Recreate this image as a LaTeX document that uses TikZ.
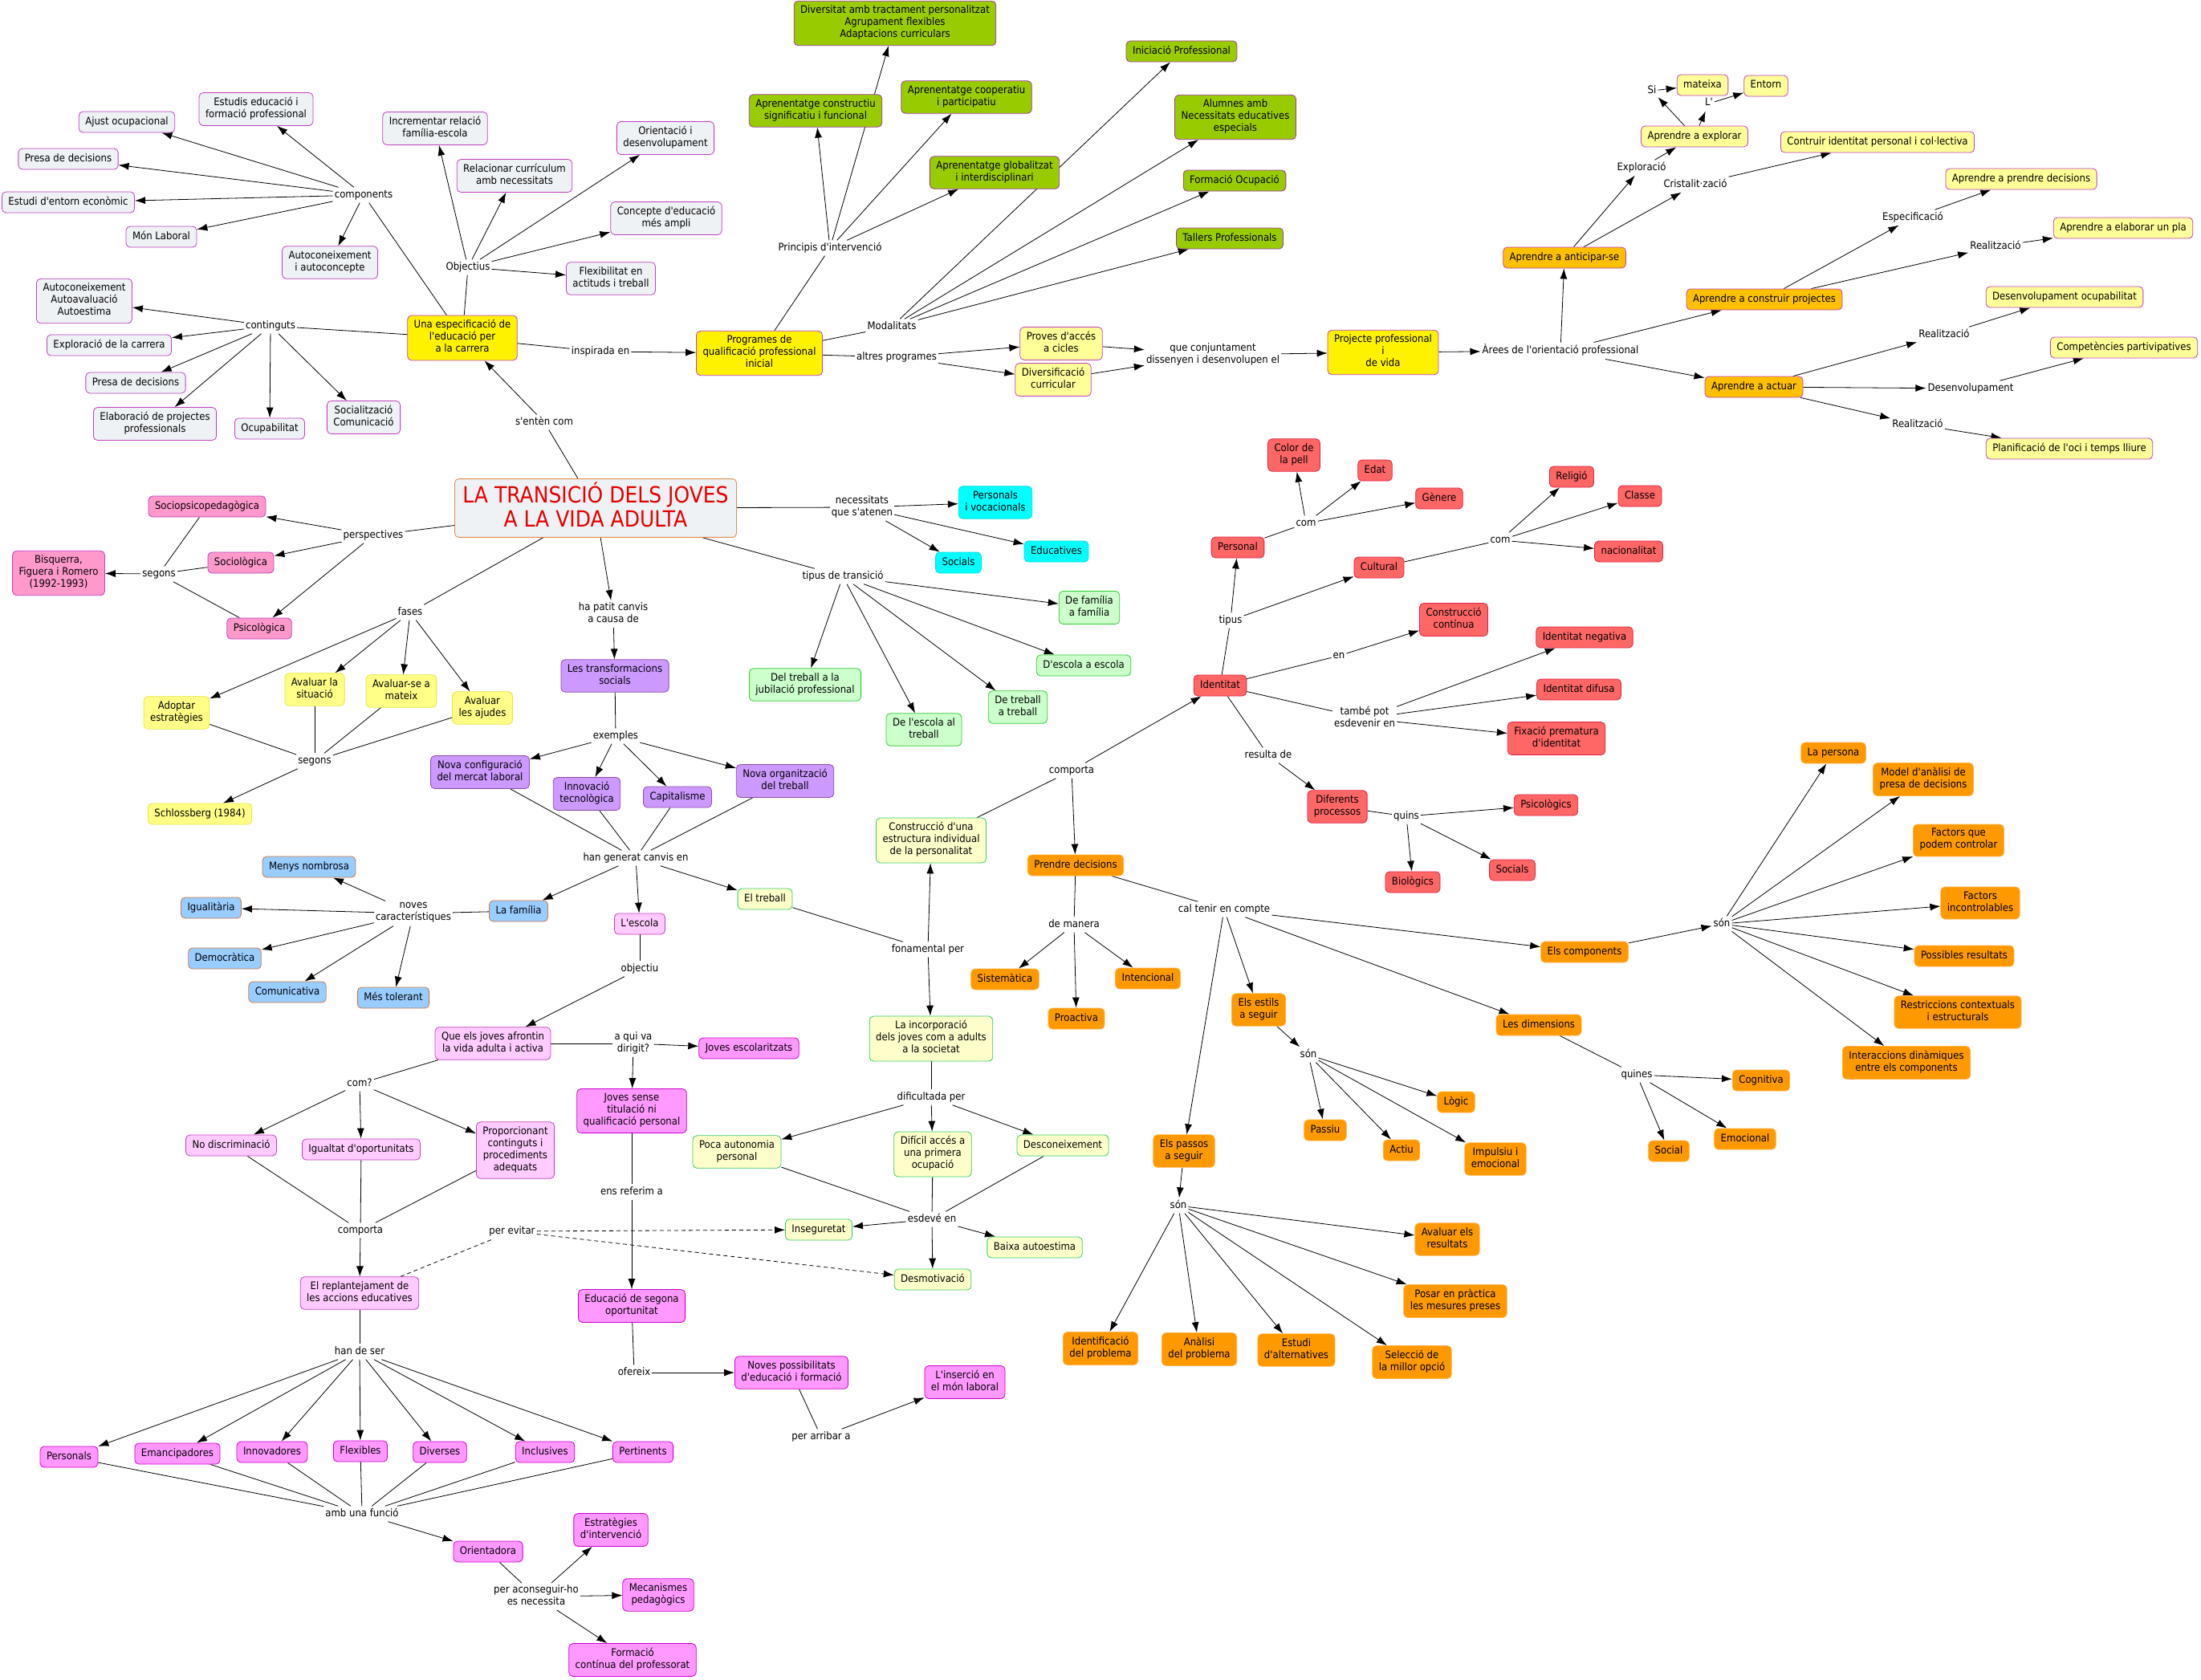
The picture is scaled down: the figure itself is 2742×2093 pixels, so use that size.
\documentclass[tikz,border=0pt]{standalone}
\usepackage{fontspec}
\setmainfont{DejaVu Sans}[FakeStretch=0.9, Ligatures=TeXOff]
\usetikzlibrary{arrows.meta,backgrounds}
\definecolor{cmgray}{HTML}{EEF2F5}
\definecolor{cmmag}{HTML}{C040C0}
\definecolor{cmgreen}{HTML}{99CC00}
\definecolor{cmgreenbd}{HTML}{9C3A9C}
\definecolor{cmpale}{HTML}{FFFF99}
\definecolor{cmgold}{HTML}{FFC000}
\definecolor{cmtitlebd}{HTML}{E58A4E}
\definecolor{cmtitle}{HTML}{E60000}
\definecolor{cmpink}{HTML}{FF99CC}
\definecolor{cmfase}{HTML}{FFFF88}
\definecolor{cmfasebd}{HTML}{E6E640}
\definecolor{cmpurple}{HTML}{CC99FF}
\definecolor{cmpurplebd}{HTML}{8E4CA8}
\definecolor{cmblue}{HTML}{99CCFF}
\definecolor{cmbluebd}{HTML}{CC7744}
\definecolor{cmlpink}{HTML}{FFCCFF}
\definecolor{cmmpink}{HTML}{FF99FF}
\definecolor{cmmpinkbd}{HTML}{CC00CC}
\definecolor{cmcream}{HTML}{FFFFCC}
\definecolor{cmcreambd}{HTML}{33CC66}
\definecolor{cmlgreen}{HTML}{CCFFCC}
\definecolor{cmlgreenbd}{HTML}{33CC33}
\definecolor{cmcyan}{HTML}{00FFFF}
\definecolor{cmcyanbd}{HTML}{00DDDD}
\definecolor{cmred}{HTML}{FF6666}
\definecolor{cmredbd}{HTML}{DD2244}
\definecolor{cmorange}{HTML}{FF9900}
\definecolor{cmorangebd}{HTML}{FFB347}

\begin{document}
\begin{tikzpicture}[
  x=1pt, y=-1pt,
  font=\fontsize{13}{15}\selectfont,
  cpt/.style={draw, line width=0.8pt, rounded corners=5pt, align=center,
              inner xsep=8pt, inner ysep=5.5pt,
              execute at begin node=\strut, execute at end node=\strut},
  gry/.style={cpt, fill=cmgray, draw=cmmag},
  ylw/.style={cpt, fill=yellow, draw=cmmag},
  grn/.style={cpt, fill=cmgreen, draw=cmgreenbd},
  pal/.style={cpt, fill=cmpale, draw=cmmag},
  gld/.style={cpt, fill=cmgold, draw=cmmag},
  ttl/.style={cpt, fill=cmgray, draw=cmtitlebd, text=cmtitle, inner xsep=10pt, inner ysep=4pt,
              font=\fontsize{27.8}{30}\selectfont},
  pnk/.style={cpt, fill=cmpink, draw=cmmag},
  fas/.style={cpt, fill=cmfase, draw=cmfasebd},
  prp/.style={cpt, fill=cmpurple, draw=cmpurplebd},
  blu/.style={cpt, fill=cmblue, draw=cmbluebd},
  lpk/.style={cpt, fill=cmlpink, draw=cmmag},
  mpk/.style={cpt, fill=cmmpink, draw=cmmpinkbd},
  crm/.style={cpt, fill=cmcream, draw=cmcreambd},
  lgr/.style={cpt, fill=cmlgreen, draw=cmlgreenbd},
  cyn/.style={cpt, fill=cmcyan, draw=cmcyanbd},
  red/.style={cpt, fill=cmred, draw=cmredbd},
  org/.style={cpt, fill=cmorange, draw=cmorangebd},
  lbl/.style={inner sep=2pt, align=center,
              execute at begin node=\strut, execute at end node=\strut},
  ln/.style={line width=0.8pt},
  arr/.style={ln, -{Latex[length=13pt,width=9pt]}},
  dsh/.style={ln, dash pattern=on 5pt off 4pt},
]
  \useasboundingbox (0,0) rectangle (2742,2093);

  % --- especificacio de l'educacio per a la carrera
  \node[gry] (ajust)   at (158,152) {Ajust ocupacional};
  \node[gry] (estudis) at (319,136) {Estudis educació i\\formació professional};
  \node[gry] (presaA)  at (85,198)  {Presa de decisions};
  \node[gry] (entorn)  at (85,252)  {Estudi d'entorn econòmic};
  \node[gry] (monlab)  at (201,295) {Món Laboral};
  \node[gry] (autoc)   at (411,327) {Autoconeixement\\i autoconcepte};
  \node[gry] (increm)  at (542,160) {Incrementar relació\\família-escola};
  \node[gry] (relac)   at (641,219) {Relacionar currículum\\amb necessitats};
  \node[gry] (orient)  at (829,172) {Orientació i\\desenvolupament};
  \node[gry] (concep)  at (830,272) {Concepte d'educació\\més ampli};
  \node[gry] (flexib)  at (761,347) {Flexibilitat en\\actituds i treball};
  \node[gry] (autoav)  at (105,375) {Autoconeixement\\Autoavaluació\\Autoestima};
  \node[gry] (explor)  at (136,430) {Exploració de la carrera};
  \node[gry] (presaB)  at (169,477) {Presa de decisions};
  \node[gry] (elabor)  at (193,528) {Elaboració de projectes\\professionals};
  \node[gry] (ocupab)  at (336,534) {Ocupabilitat};
  \node[gry] (social)  at (453,520) {Socialització\\Comunicació};
  \node[ylw] (espec)   at (576,421) {Una especificació de\\l'educació per\\a la carrera};
  \node[lbl] (lcomp)   at (453,243) {components};
  \node[lbl] (lobj)    at (583,333) {Objectius};
  \node[lbl] (lcont)   at (337,406) {continguts};
  \node[lbl] (linsp)   at (748,438) {inspirada en};
  \node[lbl] (lsent)   at (678,526) {s'entèn com};

  % --- programes
  \node[ylw] (pqpi)    at (946,440)  {Programes de\\qualificació professional\\inicial};
  \node[grn] (divers)  at (1115,29)  {Diversitat amb tractament personalitzat\\Agrupament flexibles\\Adaptacions curriculars};
  \node[grn] (apcons)  at (1016,138) {Aprenentatge constructiu\\significatiu i funcional};
  \node[grn] (apcoop)  at (1204,121) {Aprenentatge cooperatiu\\i participatiu};
  \node[grn] (apglob)  at (1239,215) {Aprenentatge globalitzat\\i interdisciplinari};
  \node[grn] (inicp)   at (1472,64)  {Iniciació Professional};
  \node[grn] (alumn)   at (1539,146) {Alumnes amb\\Necessitats educatives\\especials};
  \node[grn] (formo)   at (1538,225) {Formació Ocupació};
  \node[grn] (taller)  at (1532,297) {Tallers Professionals};
  \node[pal] (proves)  at (1322,428) {Proves d'accés\\a cicles};
  \node[pal] (divcur)  at (1312,473) {Diversificació\\curricular};
  \node[ylw] (projv)   at (1723,439) {Projecte professional\\i\\de vida};
  \node[lbl] (lprinc)  at (1034,309) {Principis d'intervenció};
  \node[lbl] (lmodal)  at (1111,407) {Modalitats};
  \node[lbl] (laltres) at (1117,445) {altres programes};
  \node[lbl] (lconj)   at (1511,442) {que conjuntament\\dissenyen i desenvolupen el};

  % --- arees de l'orientacio professional
  \node[lbl] (larees)  at (1944,437) {Àrees de l'orientació professional};
  \node[gld] (apant)   at (1949,321) {Aprendre a anticipar-se};
  \node[gld] (apcon)   at (2198,373) {Aprendre a construir projectes};
  \node[gld] (apact)   at (2185,482) {Aprendre a actuar};
  \node[pal] (apexp)   at (2111,170) {Aprendre a explorar};
  \node[pal] (mateixa) at (2121,106) {mateixa};
  \node[pal] (entorn2) at (2200,107) {Entorn};
  \node[pal] (contr)   at (2339,177) {Contruir identitat personal i col·lectiva};
  \node[pal] (appren)  at (2518,223) {Aprendre a prendre decisions};
  \node[pal] (apelab)  at (2645,284) {Aprendre a elaborar un pla};
  \node[pal] (desocu)  at (2572,370) {Desenvolupament ocupabilitat};
  \node[pal] (compet)  at (2646,433) {Competències partivipatives};
  \node[pal] (planif)  at (2578,559) {Planificació de l'oci i temps lliure};
  \node[lbl] (lexpl)   at (2045,209) {Exploració};
  \node[lbl] (lcrist)  at (2112,230) {Cristalit·zació};
  \node[lbl] (lsi)     at (2058,113) {Si};
  \node[lbl] (ll)      at (2129,129) {L'};
  \node[lbl] (lespe)   at (2383,271) {Especificació};
  \node[lbl] (lreal1)  at (2486,307) {Realització};
  \node[lbl] (lreal2)  at (2422,417) {Realització};
  \node[lbl] (ldes)    at (2455,484) {Desenvolupament};
  \node[lbl] (lreal3)  at (2389,529) {Realització};

  % --- title and first level
  \node[ttl] (title)   at (742,633) {LA TRANSICIÓ DELS JOVES\\A LA VIDA ADULTA};
  \node[lbl] (lnec)    at (1074,632) {necessitats\\que s'atenen};
  \node[cyn] (persv)   at (1240,626) {Personals\\i vocacionals};
  \node[cyn] (socs)    at (1194,701) {Socials};
  \node[cyn] (educs)   at (1316,687) {Educatives};
  \node[lbl] (ltipt)   at (1050,718) {tipus de transició};
  \node[lgr] (trjub)   at (1003,853) {Del treball a la\\jubilació professional};
  \node[lgr] (esctr)   at (1151,909) {De l'escola al\\treball};
  \node[lgr] (trtr)    at (1268,881) {De treball\\a treball};
  \node[lgr] (escesc)  at (1350,829) {D'escola a escola};
  \node[lgr] (famfam)  at (1357,757) {De família\\a família};
  \node[lbl] (lpersp)  at (465,667)  {perspectives};
  \node[pnk] (sociop)  at (258,631)  {Sociopsicopedagògica};
  \node[pnk] (sociol)  at (300,701)  {Sociològica};
  \node[pnk] (psico)   at (323,783)  {Psicològica};
  \node[lbl] (lsegA)   at (198,715)  {segons};
  \node[pnk] (bisq)    at (73,714)   {Bisquerra,\\Figuera i Romero\\(1992-1993)};
  \node[lbl] (lfases)  at (511,763)  {fases};
  \node[fas] (adopt)   at (220,888)  {Adoptar\\estratègies};
  \node[fas] (avsit)   at (392,859)  {Avaluar la\\situació};
  \node[fas] (avmat)   at (500,861)  {Avaluar-se a\\mateix};
  \node[fas] (avaju)   at (601,882)  {Avaluar\\les ajudes};
  \node[lbl] (lsegB)   at (392,948)  {segons};
  \node[fas] (schl)    at (249,1014) {Schlossberg (1984)};

  % --- transformacions socials
  \node[lbl] (lpatit)  at (764,765)  {ha patit canvis\\a causa de};
  \node[prp] (transf)  at (766,842)  {Les transformacions\\socials};
  \node[lbl] (lexem)   at (767,917)  {exemples};
  \node[prp] (novconf) at (598,962)  {Nova configuració\\del mercat laboral};
  \node[prp] (innov)   at (731,989)  {Innovació\\tecnològica};
  \node[prp] (capit)   at (844,993)  {Capitalisme};
  \node[prp] (novorg)  at (978,973)  {Nova organització\\del treball};
  \node[lbl] (lhan)    at (792,1069) {han generat canvis en};
  \node[blu] (familia) at (646,1135) {La família};
  \node[lpk] (escola)  at (797,1151) {L'escola};
  \node[crm] (treball) at (953,1120) {El treball};
  \node[lbl] (lnoves)  at (515,1138) {noves\\característiques};
  \node[blu] (menys)   at (385,1080) {Menys nombrosa};
  \node[blu] (igual)   at (263,1131) {Igualitària};
  \node[blu] (democ)   at (280,1194) {Democràtica};
  \node[blu] (comun)   at (358,1236) {Comunicativa};
  \node[blu] (toler)   at (490,1243) {Més tolerant};

  % --- escola
  \node[lbl] (lobjc)   at (797,1207) {objectiu};
  \node[lpk] (afront)  at (614,1300) {Que els joves afrontin\\la vida adulta i activa};
  \node[lbl] (lqui)    at (789,1300) {a qui va\\dirigit?};
  \node[mpk] (jovesc)  at (933,1306) {Joves escolaritzats};
  \node[mpk] (jovsen)  at (787,1384) {Joves sense\\titulació ni\\qualificació personal};
  \node[lbl] (lrefer)  at (787,1485) {ens referim a};
  \node[mpk] (edusec)  at (787,1627) {Educació de segona\\oportunitat};
  \node[lbl] (lofer)   at (790,1710) {ofereix};
  \node[mpk] (novpos)  at (986,1710) {Noves possibilitats\\d'educació i formació};
  \node[lbl] (larrib)  at (1023,1790) {per arribar a};
  \node[mpk] (insmon)  at (1202,1722) {L'inserció en\\el món laboral};
  \node[lbl] (lcom)    at (448,1350) {com?};
  \node[lpk] (nodisc)  at (288,1427) {No discriminació};
  \node[lpk] (igopo)   at (450,1432) {Igualtat d'oportunitats};
  \node[lpk] (propor)  at (642,1433) {Proporcionant\\continguts i\\procediments\\adequats};
  \node[lbl] (lcomp2)  at (449,1533) {comporta};
  \node[lbl] (levit)   at (638,1534) {per evitar};
  \node[lpk] (replan)  at (448,1611) {El replantejament de\\les accions educatives};
  \node[lbl] (lhande)  at (448,1684) {han de ser};
  \node[mpk] (pers)    at (86,1815)  {Personals};
  \node[mpk] (emanc)   at (221,1811) {Emancipadores};
  \node[mpk] (innovd)  at (339,1809) {Innovadores};
  \node[mpk] (flexb)   at (449,1808) {Flexibles};
  \node[mpk] (divrs)   at (548,1809) {Diverses};
  \node[mpk] (inclu)   at (679,1809) {Inclusives};
  \node[mpk] (perti)   at (801,1809) {Pertinents};
  \node[lbl] (lfunc)   at (451,1886) {amb una funció};
  \node[mpk] (orientd) at (608,1933) {Orientadora};
  \node[lbl] (lacons)  at (668,1989) {per aconseguir-ho\\es necessita};
  \node[mpk] (estrat)  at (761,1906) {Estratègies\\d'intervenció};
  \node[mpk] (mecan)   at (820,1987) {Mecanismes\\pedagògics};
  \node[mpk] (formc)   at (788,2068) {Formació\\contínua del professorat};

  % --- treball
  \node[lbl] (lfonam)  at (1156,1183) {fonamental per};
  \node[crm] (constr)  at (1160,1047) {Construcció d'una\\estructura individual\\de la personalitat};
  \node[crm] (incorp)  at (1160,1294) {La incorporació\\dels joves com a adults\\a la societat};
  \node[lbl] (ldific)  at (1160,1367) {dificultada per};
  \node[crm] (poca)    at (918,1435)  {Poca autonomia\\personal};
  \node[crm] (dificil) at (1162,1438) {Difícil accés a\\una primera\\ocupació};
  \node[crm] (descon)  at (1324,1427) {Desconeixement};
  \node[lbl] (lesdev)  at (1161,1519) {esdevé en};
  \node[crm] (insegur) at (1020,1532) {Inseguretat};
  \node[crm] (baixa)   at (1289,1554) {Baixa autoestima};
  \node[crm] (desmot)  at (1162,1594) {Desmotivació};

  % --- identitat
  \node[lbl] (lcomp3)  at (1335,960)  {comporta};
  \node[red] (ident)   at (1520,854)  {Identitat};
  \node[lbl] (ltipus)  at (1533,773)  {tipus};
  \node[red] (personal) at (1542,682) {Personal};
  \node[red] (cultural) at (1718,707) {Cultural};
  \node[lbl] (lcomP)   at (1627,652)  {com};
  \node[red] (color)   at (1612,567)  {Color de\\la pell};
  \node[red] (edat)    at (1713,586)  {Edat};
  \node[red] (genere)  at (1793,621)  {Gènere};
  \node[lbl] (lcomC)   at (1869,673)  {com};
  \node[red] (religio) at (1958,594)  {Religió};
  \node[red] (classe)  at (2043,618)  {Classe};
  \node[red] (nacio)   at (2029,687)  {nacionalitat};
  \node[lbl] (len)     at (1668,817)  {en};
  \node[red] (constc)  at (1811,772)  {Construcció\\contínua};
  \node[lbl] (ltamb)   at (1700,895)  {també pot\\esdevenir en};
  \node[red] (idneg)   at (1974,794)  {Identitat negativa};
  \node[red] (iddif)   at (1967,859)  {Identitat difusa};
  \node[red] (fixac)   at (1939,920)  {Fixació prematura\\d'identitat};
  \node[lbl] (lresul)  at (1580,941)  {resulta de};
  \node[red] (difproc) at (1666,1005) {Diferents\\processos};
  \node[lbl] (lquins)  at (1752,1017) {quins};
  \node[red] (psicol)  at (1926,1003) {Psicològics};
  \node[red] (biol)    at (1760,1099) {Biològics};
  \node[red] (socis)   at (1884,1084) {Socials};

  % --- prendre decisions
  \node[org] (prendre) at (1340,1078) {Prendre decisions};
  \node[lbl] (lmanera) at (1338,1152) {de manera};
  \node[org] (sistem)  at (1252,1220) {Sistemàtica};
  \node[org] (proact)  at (1341,1269) {Proactiva};
  \node[org] (intenc)  at (1430,1219) {Intencional};
  \node[lbl] (lcal)    at (1525,1133) {cal tenir en compte};
  \node[org] (estils)  at (1568,1258) {Els estils\\a seguir};
  \node[lbl] (lsonE)   at (1630,1314) {són};
  \node[org] (passiu)  at (1651,1408) {Passiu};
  \node[org] (actiu)   at (1746,1433) {Actiu};
  \node[org] (logic)   at (1814,1373) {Lògic};
  \node[org] (impuls)  at (1863,1444) {Impulsiu i\\emocional};
  \node[org] (passos)  at (1475,1434) {Els passos\\a seguir};
  \node[lbl] (lsonP)   at (1468,1502) {són};
  \node[org] (identp)  at (1371,1680) {Identificació\\del problema};
  \node[org] (analisi) at (1494,1681) {Anàlisi\\del problema};
  \node[org] (estudi)  at (1615,1682) {Estudi\\d'alternatives};
  \node[org] (selecc)  at (1759,1697) {Selecció de\\la millor opció};
  \node[org] (posar)   at (1813,1621) {Posar en pràctica\\les mesures preses};
  \node[org] (avalres) at (1803,1544) {Avaluar els\\resultats};
  \node[org] (dimens)  at (1917,1277) {Les dimensions};
  \node[lbl] (lquines) at (2039,1339) {quines};
  \node[org] (cognit)  at (2194,1346) {Cognitiva};
  \node[org] (socl)    at (2079,1434) {Social};
  \node[org] (emoc)    at (2174,1419) {Emocional};
  \node[org] (compon)  at (1974,1186) {Els components};
  \node[lbl] (lsonC)   at (2145,1151) {són};
  \node[org] (lapers)  at (2284,938)  {La persona};
  \node[org] (model)   at (2396,971)  {Model d'anàlisi de\\presa de decisions};
  \node[org] (factc)   at (2440,1047) {Factors que\\podem controlar};
  \node[org] (facti)   at (2467,1125) {Factors\\incontrolables};
  \node[org] (possib)  at (2447,1191) {Possibles resultats};
  \node[org] (restr)   at (2439,1261) {Restriccions contextuals\\i estructurals};
  \node[org] (interac) at (2375,1324) {Interaccions dinàmiques\\entre els components};

  \begin{scope}[on background layer]
  \fill[white] (0,0) rectangle (2742,2093);
  % especificacio
  \draw[ln] (espec) -- (lcomp);
  \draw[arr] (lcomp) -- (ajust);  \draw[arr] (lcomp) -- (estudis); \draw[arr] (lcomp) -- (presaA);
  \draw[arr] (lcomp) -- (entorn); \draw[arr] (lcomp) -- (monlab);  \draw[arr] (lcomp) -- (autoc);
  \draw[ln] (espec) -- (lobj);
  \draw[arr] (lobj) -- (increm); \draw[arr] (lobj) -- (relac); \draw[arr] (lobj) -- (orient);
  \draw[arr] (lobj) -- (concep); \draw[arr] (lobj) -- (flexib);
  \draw[ln] (espec) -- (lcont);
  \draw[arr] (lcont) -- (autoav); \draw[arr] (lcont) -- (explor); \draw[arr] (lcont) -- (presaB);
  \draw[arr] (lcont) -- (elabor); \draw[arr] (lcont) -- (ocupab); \draw[arr] (lcont) -- (social);
  \draw[ln] (espec) -- (linsp);  \draw[arr] (linsp) -- (pqpi);
  \draw[ln] (title) -- (lsent);  \draw[arr] (lsent) -- (espec);
  % programes
  \draw[ln] (pqpi) -- (lprinc);
  \draw[arr] (lprinc) -- (apcons); \draw[arr] (lprinc) -- (divers);
  \draw[arr] (lprinc) -- (apcoop); \draw[arr] (lprinc) -- (apglob);
  \draw[ln] (pqpi) -- (lmodal);
  \draw[arr] (lmodal) -- (inicp); \draw[arr] (lmodal) -- (alumn);
  \draw[arr] (lmodal) -- (formo); \draw[arr] (lmodal) -- (taller);
  \draw[ln] (pqpi) -- (laltres);
  \draw[arr] (laltres) -- (proves); \draw[arr] (laltres) -- (divcur);
  \draw[arr] (proves) -- (lconj); \draw[arr] (divcur) -- (lconj);
  \draw[arr] (lconj) -- (projv);
  \draw[arr] (projv) -- (larees);
  % arees
  \draw[arr] (larees) -- (apant); \draw[arr] (larees) -- (apcon); \draw[arr] (larees) -- (apact);
  \draw[arr] (apant) -- (lexpl);  \draw[arr] (apant) -- (lcrist);
  \draw[arr] (lexpl) -- (apexp);  \draw[arr] (lcrist) -- (contr);
  \draw[arr] (apexp) -- (lsi);    \draw[arr] (apexp) -- (ll);
  \draw[arr] (lsi) -- (mateixa);  \draw[arr] (ll) -- (entorn2);
  \draw[arr] (apcon) -- (lespe);  \draw[arr] (apcon) -- (lreal1);
  \draw[arr] (lespe) -- (appren); \draw[arr] (lreal1) -- (apelab);
  \draw[arr] (apact) -- (lreal2); \draw[arr] (apact) -- (ldes); \draw[arr] (apact) -- (lreal3);
  \draw[arr] (lreal2) -- (desocu); \draw[arr] (ldes) -- (compet); \draw[arr] (lreal3) -- (planif);
  % title
  \draw[ln] (title) -- (lnec);
  \draw[arr] (lnec) -- (persv); \draw[arr] (lnec) -- (socs); \draw[arr] (lnec) -- (educs);
  \draw[ln] (title) -- (ltipt);
  \draw[arr] (ltipt) -- (trjub); \draw[arr] (ltipt) -- (esctr); \draw[arr] (ltipt) -- (trtr);
  \draw[arr] (ltipt) -- (escesc); \draw[arr] (ltipt) -- (famfam);
  \draw[ln] (title) -- (lpersp);
  \draw[arr] (lpersp) -- (sociop); \draw[arr] (lpersp) -- (sociol); \draw[arr] (lpersp) -- (psico);
  \draw[ln] (sociop) -- (lsegA); \draw[ln] (sociol) -- (lsegA); \draw[ln] (psico) -- (lsegA);
  \draw[arr] (lsegA) -- (bisq);
  \draw[ln] (title) -- (lfases);
  \draw[arr] (lfases) -- (adopt); \draw[arr] (lfases) -- (avsit);
  \draw[arr] (lfases) -- (avmat); \draw[arr] (lfases) -- (avaju);
  \draw[ln] (adopt) -- (lsegB); \draw[ln] (avsit) -- (lsegB);
  \draw[ln] (avmat) -- (lsegB); \draw[ln] (avaju) -- (lsegB);
  \draw[arr] (lsegB) -- (schl);
  % transformacions
  \draw[arr] (title) -- (lpatit); \draw[arr] (lpatit) -- (transf);
  \draw[ln] (transf) -- (lexem);
  \draw[arr] (lexem) -- (novconf); \draw[arr] (lexem) -- (innov);
  \draw[arr] (lexem) -- (capit);   \draw[arr] (lexem) -- (novorg);
  \draw[ln] (novconf) -- (lhan); \draw[ln] (innov) -- (lhan);
  \draw[ln] (capit) -- (lhan);   \draw[ln] (novorg) -- (lhan);
  \draw[arr] (lhan) -- (familia); \draw[arr] (lhan) -- (escola); \draw[arr] (lhan) -- (treball);
  \draw[ln] (familia) -- (lnoves);
  \draw[arr] (lnoves) -- (menys); \draw[arr] (lnoves) -- (igual); \draw[arr] (lnoves) -- (democ);
  \draw[arr] (lnoves) -- (comun); \draw[arr] (lnoves) -- (toler);
  % escola
  \draw[ln] (escola) -- (lobjc); \draw[arr] (lobjc) -- (afront);
  \draw[ln] (afront) -- (lqui);
  \draw[arr] (lqui) -- (jovesc); \draw[arr] (lqui) -- (jovsen);
  \draw[ln] (jovsen) -- (lrefer); \draw[arr] (lrefer) -- (edusec);
  \draw[ln] (edusec) -- (lofer);  \draw[arr] (lofer) -- (novpos);
  \draw[ln] (novpos) -- (larrib); \draw[arr] (larrib) -- (insmon);
  \draw[ln] (afront) -- (lcom);
  \draw[arr] (lcom) -- (nodisc); \draw[arr] (lcom) -- (igopo); \draw[arr] (lcom) -- (propor);
  \draw[ln] (nodisc) -- (lcomp2); \draw[ln] (igopo) -- (lcomp2); \draw[ln] (propor) -- (lcomp2);
  \draw[arr] (lcomp2) -- (replan);
  \draw[dsh] (replan) -- (levit);
  \draw[dsh, -{Latex[length=13pt,width=9pt]}] (levit) -- (insegur);
  \draw[dsh, -{Latex[length=13pt,width=9pt]}] (levit) -- (desmot);
  \draw[ln] (replan) -- (lhande);
  \draw[arr] (lhande) -- (pers);   \draw[arr] (lhande) -- (emanc); \draw[arr] (lhande) -- (innovd);
  \draw[arr] (lhande) -- (flexb);  \draw[arr] (lhande) -- (divrs); \draw[arr] (lhande) -- (inclu);
  \draw[arr] (lhande) -- (perti);
  \draw[ln] (pers) -- (lfunc);  \draw[ln] (emanc) -- (lfunc); \draw[ln] (innovd) -- (lfunc);
  \draw[ln] (flexb) -- (lfunc); \draw[ln] (divrs) -- (lfunc); \draw[ln] (inclu) -- (lfunc);
  \draw[ln] (perti) -- (lfunc);
  \draw[arr] (lfunc) -- (orientd);
  \draw[ln] (orientd) -- (lacons);
  \draw[arr] (lacons) -- (estrat); \draw[arr] (lacons) -- (mecan); \draw[arr] (lacons) -- (formc);
  % treball
  \draw[ln] (treball) -- (lfonam);
  \draw[arr] (lfonam) -- (constr); \draw[arr] (lfonam) -- (incorp);
  \draw[ln] (incorp) -- (ldific);
  \draw[arr] (ldific) -- (poca); \draw[arr] (ldific) -- (dificil); \draw[arr] (ldific) -- (descon);
  \draw[ln] (poca) -- (lesdev); \draw[ln] (dificil) -- (lesdev); \draw[ln] (descon) -- (lesdev);
  \draw[arr] (lesdev) -- (insegur); \draw[arr] (lesdev) -- (baixa); \draw[arr] (lesdev) -- (desmot);
  \draw[ln] (constr) -- (lcomp3);
  \draw[arr] (lcomp3) -- (ident); \draw[arr] (lcomp3) -- (prendre);
  % identitat
  \draw[ln] (ident) -- (ltipus);
  \draw[arr] (ltipus) -- (personal); \draw[arr] (ltipus) -- (cultural);
  \draw[ln] (personal) -- (lcomP);
  \draw[arr] (lcomP) -- (color); \draw[arr] (lcomP) -- (edat); \draw[arr] (lcomP) -- (genere);
  \draw[ln] (cultural) -- (lcomC);
  \draw[arr] (lcomC) -- (religio); \draw[arr] (lcomC) -- (classe); \draw[arr] (lcomC) -- (nacio);
  \draw[ln] (ident) -- (len); \draw[arr] (len) -- (constc);
  \draw[ln] (ident) -- (ltamb);
  \draw[arr] (ltamb) -- (idneg); \draw[arr] (ltamb) -- (iddif); \draw[arr] (ltamb) -- (fixac);
  \draw[ln] (ident) -- (lresul); \draw[arr] (lresul) -- (difproc);
  \draw[ln] (difproc) -- (lquins);
  \draw[arr] (lquins) -- (psicol); \draw[arr] (lquins) -- (biol); \draw[arr] (lquins) -- (socis);
  % prendre decisions
  \draw[ln] (prendre) -- (lmanera);
  \draw[arr] (lmanera) -- (sistem); \draw[arr] (lmanera) -- (proact); \draw[arr] (lmanera) -- (intenc);
  \draw[ln] (prendre) -- (lcal);
  \draw[arr] (lcal) -- (estils); \draw[arr] (lcal) -- (passos);
  \draw[arr] (lcal) -- (dimens); \draw[arr] (lcal) -- (compon);
  \draw[arr] (estils) -- (lsonE);
  \draw[arr] (lsonE) -- (passiu); \draw[arr] (lsonE) -- (actiu);
  \draw[arr] (lsonE) -- (logic);  \draw[arr] (lsonE) -- (impuls);
  \draw[arr] (passos) -- (lsonP);
  \draw[arr] (lsonP) -- (identp); \draw[arr] (lsonP) -- (analisi); \draw[arr] (lsonP) -- (estudi);
  \draw[arr] (lsonP) -- (selecc); \draw[arr] (lsonP) -- (posar);   \draw[arr] (lsonP) -- (avalres);
  \draw[ln] (dimens) -- (lquines);
  \draw[arr] (lquines) -- (cognit); \draw[arr] (lquines) -- (socl); \draw[arr] (lquines) -- (emoc);
  \draw[arr] (compon) -- (lsonC);
  \draw[arr] (lsonC) -- (lapers); \draw[arr] (lsonC) -- (model);  \draw[arr] (lsonC) -- (factc);
  \draw[arr] (lsonC) -- (facti);  \draw[arr] (lsonC) -- (possib); \draw[arr] (lsonC) -- (restr);
  \draw[arr] (lsonC) -- (interac);
  \end{scope}
\end{tikzpicture}
\end{document}
